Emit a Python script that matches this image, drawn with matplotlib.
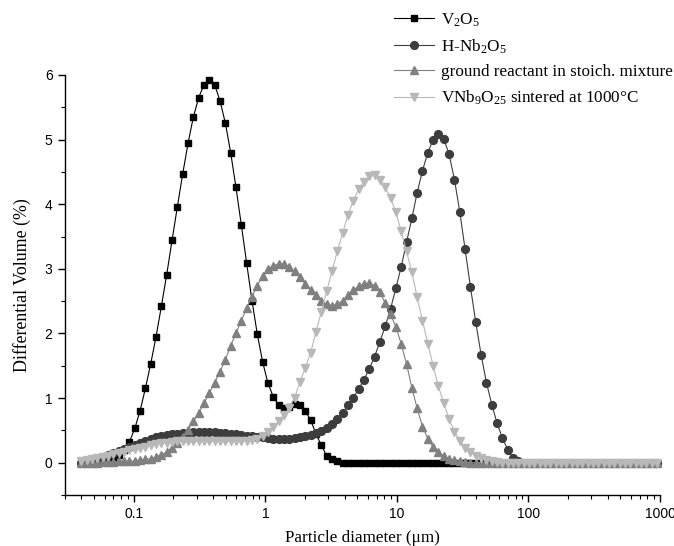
import numpy as np
import matplotlib
matplotlib.use("Agg")
import matplotlib.pyplot as plt
from matplotlib.ticker import MultipleLocator, LogLocator, FixedLocator, FixedFormatter, NullFormatter

plt.rcParams['font.family'] = ['Liberation Sans', 'DejaVu Sans']
plt.rcParams['mathtext.fontset'] = 'custom'
plt.rcParams['mathtext.rm'] = 'Liberation Serif'
plt.rcParams['mathtext.it'] = 'Liberation Serif:italic'

# instrument size channels (log-spaced bins, 0.04 - 2000 um); only those <= ~1000 um shown
diameter = np.geomspace(0.04, 2000, 117)[:109]

v2o5 = [0.00, 0.00, 0.01, 0.02, 0.03, 0.05, 0.08, 0.12, 0.19, 0.32,
        0.53, 0.80, 1.15, 1.53, 1.95, 2.42, 2.91, 3.44, 3.96, 4.47,
        4.94, 5.35, 5.65, 5.85, 5.92, 5.85, 5.60, 5.26, 4.80, 4.26,
        3.68, 3.09, 2.51, 1.99, 1.56, 1.23, 1.02, 0.89, 0.85, 0.86,
        0.91, 0.89, 0.80, 0.66, 0.45, 0.27, 0.11, 0.05, 0.02, 0.00,
        0.00, 0.00, 0.00, 0.00, 0.00, 0.00, 0.00, 0.00, 0.00, 0.00,
        0.00, 0.00, 0.00, 0.00, 0.00, 0.00, 0.00, 0.00, 0.00, 0.00,
        0.00, 0.00, 0.00, 0.00, 0.00, 0.00, 0.00, 0.00, 0.00, 0.00,
        0.00, 0.00, 0.00, 0.00, 0.00, 0.00, 0.00, 0.00, 0.00, 0.00,
        0.00, 0.00, 0.00, 0.00, 0.00, 0.00, 0.00, 0.00, 0.00, 0.00,
        0.00, 0.00, 0.00, 0.00, 0.00, 0.00, 0.00, 0.00, 0.00]

h_nb2o5 = [0.00, 0.02, 0.04, 0.06, 0.09, 0.12, 0.15, 0.18, 0.21, 0.25,
           0.28, 0.31, 0.34, 0.37, 0.39, 0.41, 0.43, 0.44, 0.45, 0.46,
           0.46, 0.47, 0.47, 0.47, 0.47, 0.47, 0.46, 0.46, 0.45, 0.44,
           0.43, 0.42, 0.41, 0.40, 0.39, 0.38, 0.37, 0.37, 0.37, 0.37,
           0.38, 0.39, 0.41, 0.43, 0.46, 0.49, 0.54, 0.60, 0.68, 0.77,
           0.89, 1.00, 1.14, 1.28, 1.45, 1.64, 1.87, 2.11, 2.38, 2.70,
           3.03, 3.41, 3.78, 4.18, 4.52, 4.80, 5.00, 5.08, 5.01, 4.77,
           4.38, 3.88, 3.30, 2.72, 2.17, 1.67, 1.24, 0.90, 0.61, 0.38,
           0.20, 0.07, 0.02, 0.00, 0.00, 0.00, 0.00, 0.00, 0.00, 0.00,
           0.00, 0.00, 0.00, 0.00, 0.00, 0.00, 0.00, 0.00, 0.00, 0.00,
           0.00, 0.00, 0.00, 0.00, 0.00, 0.00, 0.00, 0.00, 0.00]

ground = [0.00, 0.00, 0.00, 0.00, 0.01, 0.01, 0.01, 0.02, 0.02, 0.02,
          0.03, 0.04, 0.05, 0.06, 0.09, 0.12, 0.17, 0.23, 0.31, 0.40,
          0.51, 0.64, 0.77, 0.92, 1.08, 1.24, 1.41, 1.59, 1.81, 2.00,
          2.20, 2.39, 2.57, 2.74, 2.89, 2.99, 3.05, 3.08, 3.07, 3.03,
          2.96, 2.87, 2.77, 2.68, 2.59, 2.51, 2.45, 2.43, 2.45, 2.51,
          2.59, 2.67, 2.73, 2.77, 2.78, 2.74, 2.64, 2.47, 2.30, 2.10,
          1.84, 1.53, 1.16, 0.84, 0.56, 0.37, 0.24, 0.17, 0.10, 0.06,
          0.04, 0.02, 0.01, 0.00, 0.00, 0.00, 0.00, 0.00, 0.00, 0.00,
          0.00, 0.00, 0.00, 0.00, 0.00, 0.00, 0.00, 0.00, 0.00, 0.00,
          0.00, 0.00, 0.00, 0.00, 0.00, 0.00, 0.00, 0.00, 0.00, 0.00,
          0.00, 0.00, 0.00, 0.00, 0.00, 0.00, 0.00, 0.00, 0.00]

vnb9o25 = [0.02, 0.04, 0.05, 0.07, 0.09, 0.11, 0.13, 0.15, 0.17, 0.19,
           0.21, 0.23, 0.25, 0.27, 0.29, 0.30, 0.31, 0.32, 0.33, 0.33,
           0.33, 0.33, 0.33, 0.33, 0.33, 0.33, 0.33, 0.33, 0.33, 0.33,
           0.33, 0.34, 0.35, 0.37, 0.41, 0.47, 0.55, 0.64, 0.74, 0.85,
           1.00, 1.25, 1.47, 1.70, 2.02, 2.33, 2.65, 2.96, 3.27, 3.55,
           3.83, 4.05, 4.23, 4.35, 4.43, 4.45, 4.38, 4.26, 4.10, 3.88,
           3.58, 3.27, 2.95, 2.56, 2.20, 1.84, 1.50, 1.18, 0.92, 0.67,
           0.48, 0.34, 0.23, 0.16, 0.11, 0.07, 0.04, 0.02, 0.01, 0.00,
           0.00, 0.00, 0.00, 0.00, 0.00, 0.00, 0.00, 0.00, 0.00, 0.00,
           0.00, 0.00, 0.00, 0.00, 0.00, 0.00, 0.00, 0.00, 0.00, 0.00,
           0.00, 0.00, 0.00, 0.00, 0.00, 0.00, 0.00, 0.00, 0.00]

series_labels = [r'V$_2$O$_5$', r'H-Nb$_2$O$_5$', 'ground reactant in stoich. mixture',
                 r'VNb$_9$O$_{25}$ sintered at 1000°C']
xtick_values = [0.1, 1, 10, 100, 1000]
xtick_labels = ['0.1', '1', '10', '100', '1000']
ytick_values = [0, 1, 2, 3, 4, 5, 6]

fig = plt.figure(figsize=(6.74, 5.46), dpi=100)
ax = fig.add_axes([65/674, 51/546, 595/674, 420/546])

styles = [
    dict(color='#000000', marker='s', ms=5.0),
    dict(color='#3d3d3d', marker='o', ms=5.6),
    dict(color='#808080', marker='^', ms=6.2),
    dict(color='#b8b8b8', marker='v', ms=6.2),
]
for ys, lab, st in zip([v2o5, h_nb2o5, ground, vnb9o25], series_labels, styles):
    ax.plot(diameter, ys, color=st['color'], lw=0.8, marker=st['marker'],
            ms=st['ms'], mec=st['color'], mfc=st['color'], label=lab, clip_on=False)

ax.set_xscale('log')
ax.set_xlim(0.03, 1000)
ax.set_ylim(-0.5, 6)

ax.xaxis.set_major_locator(FixedLocator(xtick_values))
ax.xaxis.set_major_formatter(FixedFormatter(xtick_labels))
ax.xaxis.set_minor_locator(LogLocator(base=10, subs=np.arange(2, 10), numticks=20))
ax.xaxis.set_minor_formatter(NullFormatter())
ax.yaxis.set_major_locator(FixedLocator(ytick_values))
ax.yaxis.set_minor_locator(MultipleLocator(0.5))

for s in ['top', 'right']:
    ax.spines[s].set_visible(False)
for s in ['left', 'bottom']:
    ax.spines[s].set_linewidth(1.0)

ax.tick_params(which='major', direction='out', length=5, width=1.0,
               labelsize=10, pad=4)
ax.tick_params(which='minor', direction='out', length=3, width=0.8)

ax.set_xlabel('Particle diameter (μm)', fontfamily='Liberation Serif', fontsize=12.3, labelpad=6)
ax.set_ylabel('Differential Volume (%)', fontfamily='Liberation Serif', fontsize=12.9, labelpad=10)

leg = ax.legend(loc='upper left', bbox_to_anchor=(379/674, 1 + 4/546),
                bbox_transform=fig.transFigure, frameon=False, numpoints=1,
                handlelength=2.3, handletextpad=0.45, labelspacing=0.5,
                prop={'family': 'Liberation Serif', 'size': 12.3})

fig.savefig('out.png', dpi=100)
